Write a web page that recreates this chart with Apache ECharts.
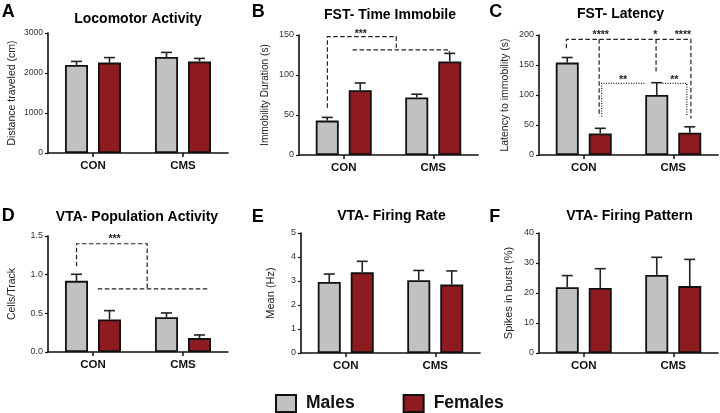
<!DOCTYPE html>
<html><head><meta charset="utf-8">
<script src="https://cdn.jsdelivr.net/npm/echarts@6/dist/echarts.min.js"></script>
<style>html,body{margin:0;padding:0;background:#fff}#c{width:720px;height:413px}</style>
</head><body><div id="c"></div>
<script>
const categories = ['CON', 'CMS'];
const groupNames = ['Males', 'Females'];
const panelLetters = ['A', 'B', 'C', 'D', 'E', 'F'];
const panelTitles = ['Locomotor Activity', 'FST- Time Immobile', 'FST- Latency',
  'VTA- Population Activity', 'VTA- Firing Rate', 'VTA- Firing Pattern'];
const yAxisNames = ['Distance traveled (cm)', 'Immobility Duration (s)', 'Latency to immobility (s)',
  'Cells/Track', 'Mean (Hz)', 'Spikes in burst (%)'];
const yMaxes = [3000, 150, 200, 1.5, 5, 40];
const yIntervals = [1000, 50, 50, 0.5, 1, 10];
const yDecimals = [0, 0, 0, 1, 0, 0];

// A - Locomotor Activity
const locoMales = [2200, 2400];
const locoMalesErr = [90, 115];
const locoFemales = [2260, 2290];
const locoFemalesErr = [125, 75];
// B - FST Time Immobile
const immobMales = [43, 72];
const immobMalesErr = [4, 4];
const immobFemales = [81, 117];
const immobFemalesErr = [9, 10];
// C - FST Latency
const latMales = [154, 100];
const latMalesErr = [8.5, 20.5];
const latFemales = [36, 37];
const latFemalesErr = [8.5, 10];
// D - VTA Population Activity
const popMales = [0.92, 0.45];
const popMalesErr = [0.085, 0.055];
const popFemales = [0.42, 0.18];
const popFemalesErr = [0.115, 0.04];
// E - VTA Firing Rate
const rateMales = [2.96, 3.03];
const rateMalesErr = [0.33, 0.41];
const rateFemales = [3.36, 2.85];
const rateFemalesErr = [0.46, 0.57];
// F - VTA Firing Pattern
const burstMales = [21.9, 26];
const burstMalesErr = [3.9, 5.9];
const burstFemales = [21.7, 22.3];
const burstFemalesErr = [6.4, 8.9];

// significance brackets: [panel, lineType, [[categoryIndex, offsetInBand, value], ...]]
const sigLines = [
  [1, 'dashed', [[0, -0.183, 59], [0, -0.183, 148], [0, 0.587, 148], [0, 0.587, 134]]],
  [1, 'dashed', [[0, 0.098, 131.3], [1, 0.18, 131.3], [1, 0.18, 128]]],
  [2, 'dashed', [[0, -0.194, 177.8], [0, -0.194, 192.8], [1, 0.197, 192.8], [1, 0.197, 61]]],
  [2, 'dashed', [[0, 0.172, 192.8], [0, 0.172, 64]]],
  [2, 'dashed', [[1, -0.192, 192.8], [1, -0.192, 139]]],
  [2, 'dotted', [[0, 0.2, 64], [0, 0.2, 119.4], [1, -0.322, 119.4]]],
  [2, 'dotted', [[1, -0.119, 119.4], [1, 0.152, 119.4], [1, 0.152, 66]]],
  [3, 'dashed', [[0, -0.183, 1.108], [0, -0.183, 1.40], [0, 0.602, 1.40], [0, 0.602, 0.815]]],
  [3, 'dashed', [[0, 0.053, 0.815], [1, 0.276, 0.815]]]
];
// significance stars: [panel, categoryIndex, offsetInBand, value, text]
const sigStars = [
  [1, 0, 0.19, 153, '***'],
  [2, 0, 0.19, 203.8, '****'],
  [2, 1, -0.2, 203.8, '*'],
  [2, 1, 0.108, 203.8, '****'],
  [2, 0, 0.439, 127.8, '**'],
  [2, 1, 0.011, 127.8, '**'],
  [3, 0, 0.239, 1.49, '***']
];

const malesByPanel = [locoMales, immobMales, latMales, popMales, rateMales, burstMales];
const malesErrByPanel = [locoMalesErr, immobMalesErr, latMalesErr, popMalesErr, rateMalesErr, burstMalesErr];
const femalesByPanel = [locoFemales, immobFemales, latFemales, popFemales, rateFemales, burstFemales];
const femalesErrByPanel = [locoFemalesErr, immobFemalesErr, latFemalesErr, popFemalesErr, rateFemalesErr, burstFemalesErr];

// ---- layout / style ----
const FONT = "'Liberation Sans', Arial, Helvetica, sans-serif";
const MALE_COLOR = '#c1c1c1';
const FEMALE_COLOR = '#8e1b20';
const BAR_W = 23, BAR_GAP = 10;
const HALF = (BAR_W + BAR_GAP) / 2;
const CAP = 5.5;
const grids = [
  { left: 48, top: 33, width: 180, height: 120 },
  { left: 299, top: 35, width: 179, height: 120 },
  { left: 539, top: 35, width: 179, height: 120 },
  { left: 48, top: 236, width: 180, height: 116 },
  { left: 301, top: 233, width: 179, height: 120 },
  { left: 539, top: 233, width: 179, height: 120 }
];
const letterPos = [[1.7, 3.2], [251.7, 2.7], [489.3, 3.2], [1.7, 207], [251.7, 207.7], [489.3, 207.7]];
const titlePos = [[138, 11.7], [390, 8.3], [620.5, 7.3], [137, 210], [391.5, 209], [629.5, 209]];
const nameGaps = [30, 29, 28, 30, 25, 25];
const nameSizes = [10.5, 10.2, 10.5, 10.5, 11, 11];
const tickSizes = [8.5, 9, 9, 9, 9, 9];

const titles = [];
panelLetters.forEach((l, i) => {
  titles.push({ text: l, left: letterPos[i][0], top: letterPos[i][1], padding: 0,
    textStyle: { fontFamily: FONT, fontSize: 18, fontWeight: 'bold', color: '#000' } });
  titles.push({ text: panelTitles[i], left: titlePos[i][0], top: titlePos[i][1], textAlign: 'center', padding: 0,
    textStyle: { fontFamily: FONT, fontSize: 14, fontWeight: 'bold', color: '#000' } });
});

const axisLine = { show: true, lineStyle: { color: '#111', width: 1.6 } };
const xAxes = grids.map((g, i) => ({
  type: 'category', gridIndex: i, data: categories,
  axisLine, axisTick: { show: true, alignWithLabel: true, length: 4, lineStyle: { color: '#111', width: 1.5 } },
  axisLabel: { fontFamily: FONT, fontSize: 11.5, fontWeight: 'bold', color: '#111', margin: 7 },
  splitLine: { show: false }
}));
const yAxes = grids.map((g, i) => ({
  type: 'value', gridIndex: i, min: 0, max: yMaxes[i], interval: yIntervals[i],
  name: yAxisNames[i], nameLocation: 'middle', nameGap: nameGaps[i],
  nameTextStyle: { fontFamily: FONT, fontSize: nameSizes[i], color: '#222' },
  axisLine, axisTick: { show: true, length: 3, lineStyle: { color: '#111', width: 1.2 } },
  axisLabel: { fontFamily: FONT, fontSize: tickSizes[i], color: '#333', margin: 5,
    formatter: v => v.toFixed(yDecimals[i]) },
  splitLine: { show: false }
}));

function barSeries(p, name, values, color) {
  return { type: 'bar', name, xAxisIndex: p, yAxisIndex: p, data: values,
    barWidth: BAR_W, barGap: (BAR_GAP / BAR_W * 100) + '%',
    itemStyle: { color, borderColor: '#111', borderWidth: 1.8 }, silent: true, z: 2 };
}
function errSeries(p, sign, means, errs) {
  return { type: 'custom', xAxisIndex: p, yAxisIndex: p, z: 5, silent: true,
    data: means.map((m, i) => [i, m, m + errs[i]]),
    encode: { x: 0, y: [1, 2] },
    renderItem(params, api) {
      const c = api.coord([api.value(0), api.value(1)]);
      const t = api.coord([api.value(0), api.value(2)]);
      const x = c[0] + sign * HALF;
      const st = { stroke: '#222', lineWidth: 1.6 };
      return { type: 'group', children: [
        { type: 'line', shape: { x1: x, y1: c[1], x2: x, y2: t[1] }, style: st },
        { type: 'line', shape: { x1: x - CAP, y1: t[1], x2: x + CAP, y2: t[1] }, style: st }
      ] };
    } };
}
function sigLineSeries(p) {
  const lines = sigLines.filter(l => l[0] === p);
  if (!lines.length) return [];
  return [{ type: 'custom', xAxisIndex: p, yAxisIndex: p, z: 6, silent: true, clip: false,
    data: lines.map(l => [l[2][0][0], l[2][0][2]]),
    encode: { x: 0, y: 1 },
    renderItem(params, api) {
      const l = lines[params.dataIndex];
      const bw = api.size([1, 0])[0];
      const points = l[2].map(q => { const c = api.coord([q[0], q[2]]); return [c[0] + q[1] * bw, c[1]]; });
      return { type: 'polyline', shape: { points },
        style: { stroke: '#222', lineWidth: 1.2, fill: null,
          lineDash: l[1] === 'dashed' ? [4.5, 2.5] : [1, 1.5] } };
    } }];
}
function sigStarSeries(p) {
  const stars = sigStars.filter(s => s[0] === p);
  if (!stars.length) return [];
  return [{ type: 'custom', xAxisIndex: p, yAxisIndex: p, z: 7, silent: true, clip: false,
    data: stars.map(s => [s[1], s[3]]),
    encode: { x: 0, y: 1 },
    renderItem(params, api) {
      const s = stars[params.dataIndex];
      const bw = api.size([1, 0])[0];
      const c = api.coord([s[1], s[3]]);
      return { type: 'text', x: c[0] + s[2] * bw, y: c[1] + 2,
        style: { text: s[4], fontFamily: FONT, fontSize: 10.5, fontWeight: 'bold', fill: '#222',
          align: 'center', verticalAlign: 'middle' } };
    } }];
}

const series = [];
grids.forEach((g, p) => {
  series.push(barSeries(p, groupNames[0], malesByPanel[p], MALE_COLOR));
  series.push(barSeries(p, groupNames[1], femalesByPanel[p], FEMALE_COLOR));
  series.push(errSeries(p, -1, malesByPanel[p], malesErrByPanel[p]));
  series.push(errSeries(p, 1, femalesByPanel[p], femalesErrByPanel[p]));
  series.push(...sigLineSeries(p));
  series.push(...sigStarSeries(p));
});

const chart = echarts.init(document.getElementById('c'), null, { renderer: 'canvas' });
chart.setOption({
  backgroundColor: '#fff',
  animation: false,
  title: titles,
  grid: grids,
  xAxis: xAxes,
  yAxis: yAxes,
  legend: { data: groupNames, left: 275, top: 394, itemWidth: 20, itemHeight: 17, itemGap: 48,
    icon: 'rect', selectedMode: false, padding: 0,
    itemStyle: { borderColor: '#111', borderWidth: 2 },
    textStyle: { fontFamily: FONT, fontSize: 17.5, fontWeight: 'bold', color: '#111', padding: [0, 0, 0, 5] } },
  series
});
</script></body></html>
